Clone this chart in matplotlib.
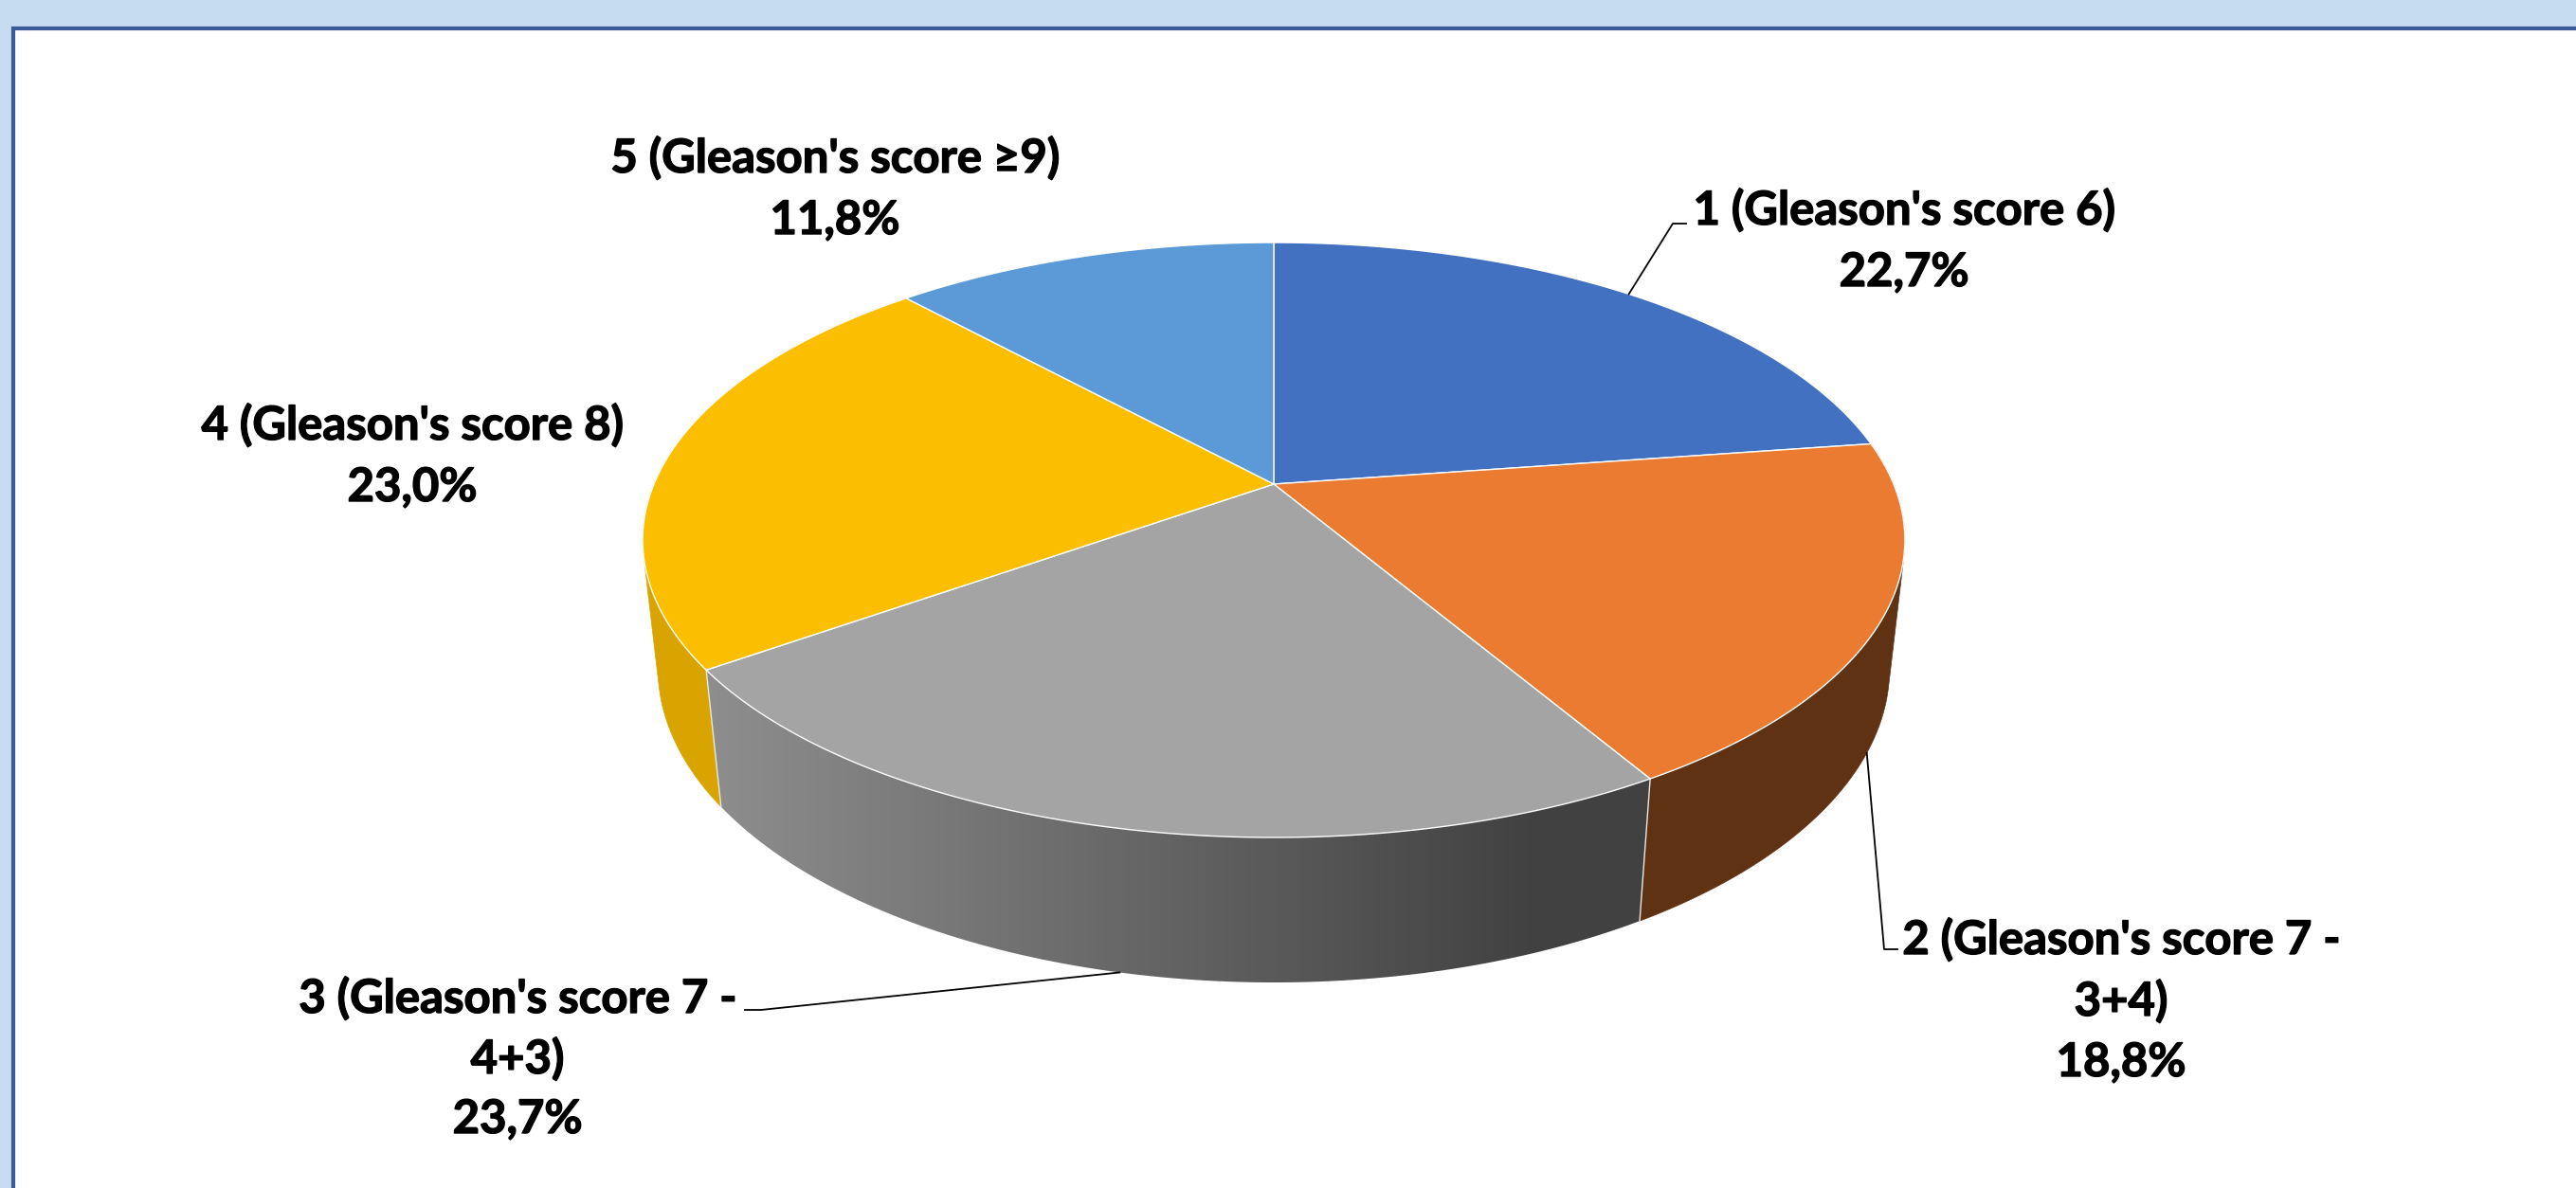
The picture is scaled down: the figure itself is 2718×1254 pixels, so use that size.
# -*- coding: utf-8 -*-
"""
Gleason score distribution, drawn as a tilted 3D pie
"""

import numpy as np
import matplotlib
matplotlib.use('Agg')
import matplotlib.pyplot as plt
import matplotlib.patheffects as path_effects
from matplotlib.colors import LinearSegmentedColormap
from matplotlib.patches import Polygon, Rectangle

#%% Data

category_lines = [["1 (Gleason's score 6)"],
                  ["2 (Gleason's score 7 -", "3+4)"],
                  ["3 (Gleason's score 7 -", "4+3)"],
                  ["4 (Gleason's score 8)"],
                  ["5 (Gleason's score ≥9)"]]
shares = [22.7, 18.8, 23.7, 23.0, 11.8]
share_labels = ['22,7%', '18,8%', '23,7%', '23,0%', '11,8%']

top_colors = ['#4371C2', '#EB7B30', '#A4A4A4', '#FBBE00', '#5B9AD6']
wall_colors = ['#2F4F88', '#5F3213', None, '#D9A400', '#3F6C96']
gray_stops = [(0, '#8E8E8E'), (0.88, '#414141'), (1, '#414141')]

label_x = [2009, 2238, 546, 435, 881]
label_baseline = [[237, 302], [1007, 1072, 1136], [1069, 1133, 1196], [464, 529], [182, 247]]

# leader elbows, in pixels (slice index, elbow, end of the short tail)
leaders = [(0, (1765, 236), (1779, 236), False),
           (1, (1988, 1002), (2002, 1002), True),
           (2, (803, 1066), (786, 1066), True)]

#%% Projection of the pie (pixels of the 2718x1254 picture)

CENTER_X, CENTER_Y = 1344, 511
RADIUS_X, RADIUS_Y = 654, 302.9
PERSPECTIVE = 0.1879      # how much the far rim shrinks
DEPTH_SCALE = 0.024       # same, for the bottom rim
DEPTH = 136.9

def project(angle_deg, radius=1.0, bottom=False):
    """Screen x, y of a pie point, angle clockwise from 12 o'clock"""
    angle = np.radians(angle_deg)
    u = radius * np.sin(angle)
    v = radius * np.cos(angle)
    w = 1 + PERSPECTIVE * v + (DEPTH_SCALE if bottom else 0)
    drop = DEPTH if bottom else 0
    return CENTER_X + RADIUS_X * u / w, CENTER_Y + (drop - RADIUS_Y * v) / w

def rim(start, stop, bottom=False):
    angles = np.linspace(start, stop, max(int(abs(stop - start)), 2) * 2)
    x, y = project(angles, bottom=bottom)
    return np.column_stack([x, y])

def convex_hull(points):
    """Monotone chain hull, gives the wall its straight silhouette edges"""
    points = sorted(map(tuple, points))
    def half(seq):
        chain = []
        for p in seq:
            while len(chain) > 1 and ((chain[-1][0] - chain[-2][0]) * (p[1] - chain[-2][1])
                                      - (chain[-1][1] - chain[-2][1]) * (p[0] - chain[-2][0])) <= 0:
                chain.pop()
            chain.append(p)
        return chain[:-1]
    return np.array(half(points) + half(points[::-1]))

#%% Figure

fig = plt.figure(figsize=(27.18, 12.54), dpi=100)
fig.patch.set_facecolor('#C6DCF0')
ax = fig.add_axes([0, 0, 1, 1])
ax.axis('off')

ax.add_patch(Rectangle((14, 30), 2718, 1254, facecolor='white', edgecolor='#3A5A98', linewidth=3.0, zorder=1))

bounds = np.concatenate([[0], np.cumsum(shares)]) * 3.6

# Side wall, front slices only
for i in [3, 1, 2]:
    start, stop = bounds[i], bounds[i + 1]
    wall = convex_hull(np.vstack([rim(start, stop), rim(stop, start, bottom=True)]))
    if wall_colors[i] is not None:
        ax.add_patch(Polygon(wall, closed=True, facecolor=wall_colors[i], edgecolor=wall_colors[i], linewidth=0.5, zorder=2))
    else:
        # gray slice wall has a left-to-right shade
        gray_cmap = LinearSegmentedColormap.from_list('wall', gray_stops)
        patch = Polygon(wall, closed=True, facecolor='none', edgecolor='none', zorder=2)
        ax.add_patch(patch)
        image = ax.imshow(np.linspace(0, 1, 256).reshape(1, -1), cmap=gray_cmap, aspect='auto',
                          extent=(wall[:, 0].min(), wall[:, 0].max(), wall[:, 1].max(), wall[:, 1].min()), zorder=2)
        image.set_clip_path(patch)

# White seams between the wall slices
for angle in [bounds[2], bounds[3]]:
    x_top, y_top = project(angle)
    x_bottom, y_bottom = project(angle, bottom=True)
    ax.plot([x_top, x_bottom], [y_top, y_bottom], color='#E8E8E8', linewidth=1.0, zorder=3)

# Top face
for i in range(len(shares)):
    points = np.vstack([[project(0, radius=0)], rim(bounds[i], bounds[i + 1])])
    ax.add_patch(Polygon(points, closed=True, facecolor=top_colors[i], edgecolor='white', linewidth=1.0, joinstyle='round', zorder=4))

# Leader lines start at the middle of the slice
for i, elbow, tail, on_bottom in leaders:
    x0, y0 = project((bounds[i] + bounds[i + 1]) / 2, bottom=on_bottom)
    ax.plot([x0, elbow[0], tail[0]], [y0, elbow[1], tail[1]], color='black', linewidth=1.3, zorder=5)

# Labels, the thin stroke brings Lato Bold closer to the weight of the reference
bolder = [path_effects.withStroke(linewidth=1.0, foreground='black')]
for i in range(len(shares)):
    lines = category_lines[i] + [share_labels[i]]
    for line, y in zip(lines, label_baseline[i]):
        ax.text(label_x[i], y, line, ha='center', va='baseline', fontsize=35.3,
                fontweight='bold', family='Lato', color='black', path_effects=bolder, zorder=6)

ax.set_xlim(0, 2718)
ax.set_ylim(1254, 0)

fig.savefig('out.png', dpi=100, facecolor=fig.get_facecolor())
